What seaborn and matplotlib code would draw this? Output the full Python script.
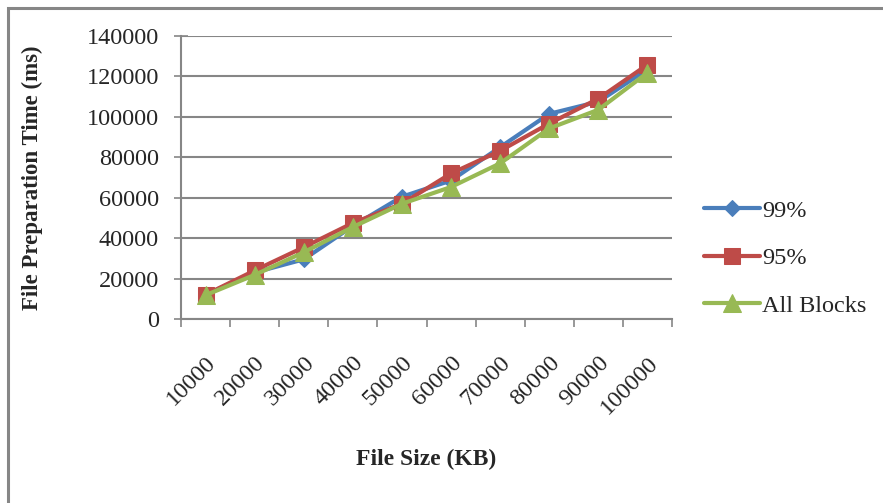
import matplotlib
matplotlib.use("Agg")
import matplotlib.pyplot as plt
import seaborn as sns
import pandas as pd
import numpy as np
from matplotlib.patches import Rectangle

categories = ["10000", "20000", "30000", "40000", "50000",
              "60000", "70000", "80000", "90000", "100000"]
s99 = [12000, 23000, 29500, 46000, 60500, 68500, 85000, 101500, 107500, 123500]
s95 = [12000, 24000, 35500, 47500, 57000, 72000, 83200, 96700, 109000, 125800]
all_blocks = [11800, 21800, 33000, 45500, 57000, 65300, 77000, 94300, 103500, 121800]
series_names = ["99%", "95%", "All Blocks"]

rows = []
for name, vals in zip(series_names, [s99, s95, all_blocks]):
    for i, v in enumerate(vals):
        rows.append({"pos": i, "size": categories[i], "time": v, "series": name})
df = pd.DataFrame(rows)

sns.set_theme(style="white")
plt.rcParams["font.family"] = ["Liberation Serif", "DejaVu Serif"]

fig = plt.figure(figsize=(8.83, 5.03), dpi=100)
ax = fig.add_axes([181/883, 1-319/503, (672-181)/883, (319-36)/503])

palette = {"99%": "#4A7EBB", "95%": "#BE4B48", "All Blocks": "#98B954"}
markers = {"99%": "D", "95%": "s", "All Blocks": "^"}
sizes_m = {"99%": 8, "95%": 12, "All Blocks": 13}

for name in series_names:
    sub = df[df["series"] == name]
    sns.lineplot(data=sub, x="pos", y="time", ax=ax, color=palette[name],
                 marker=markers[name], markersize=sizes_m[name],
                 markeredgecolor=palette[name], linewidth=3.0, label=name,
                 sort=False)

grid_c = "#868686"
fs = 17.5
ax.set_xlim(-0.5, len(categories) - 0.5)
ax.set_ylim(0, 140000)
ax.set_yticks(range(0, 140001, 20000))
ax.set_yticklabels([str(v) for v in range(0, 140001, 20000)], fontsize=fs)
ax.yaxis.grid(True, color=grid_c, linewidth=1.5)
ax.set_axisbelow(True)

ax.set_xticks(np.arange(-0.5, len(categories), 1.0))
ax.set_xticklabels([])
ax.set_xticks(np.arange(len(categories)), minor=True)
ax.set_xticklabels(categories, minor=True, rotation=45, ha="right",
                   rotation_mode="anchor", fontsize=fs)
ax.tick_params(axis="x", which="major", length=6, width=1.2, color=grid_c, direction="out", bottom=True)
ax.tick_params(axis="x", which="minor", length=0, pad=24)
ax.tick_params(axis="y", which="major", length=10, width=1.2, color=grid_c, direction="inout", left=True, pad=11)

for s in ["top", "right"]:
    ax.spines[s].set_visible(False)
for s in ["left", "bottom"]:
    ax.spines[s].set_color(grid_c)
    ax.spines[s].set_linewidth(1.5)

ax.set_xlabel("File Size (KB)", fontsize=17, fontweight="bold", labelpad=22)
ax.set_ylabel("File Preparation Time (ms)", fontsize=16.5, fontweight="bold", labelpad=31)

leg = ax.legend(loc="center left", bbox_to_anchor=(1.02, 0.215), frameon=False,
                fontsize=fs, handlelength=2.3, labelspacing=1.05, handletextpad=0.1)

fig.patches.append(Rectangle((8/883, -0.1), 1.2, 1 - 8/503 + 0.1,
                             transform=fig.transFigure, fill=False,
                             edgecolor=grid_c, linewidth=2.2))

fig.savefig("out.png", dpi=100)
